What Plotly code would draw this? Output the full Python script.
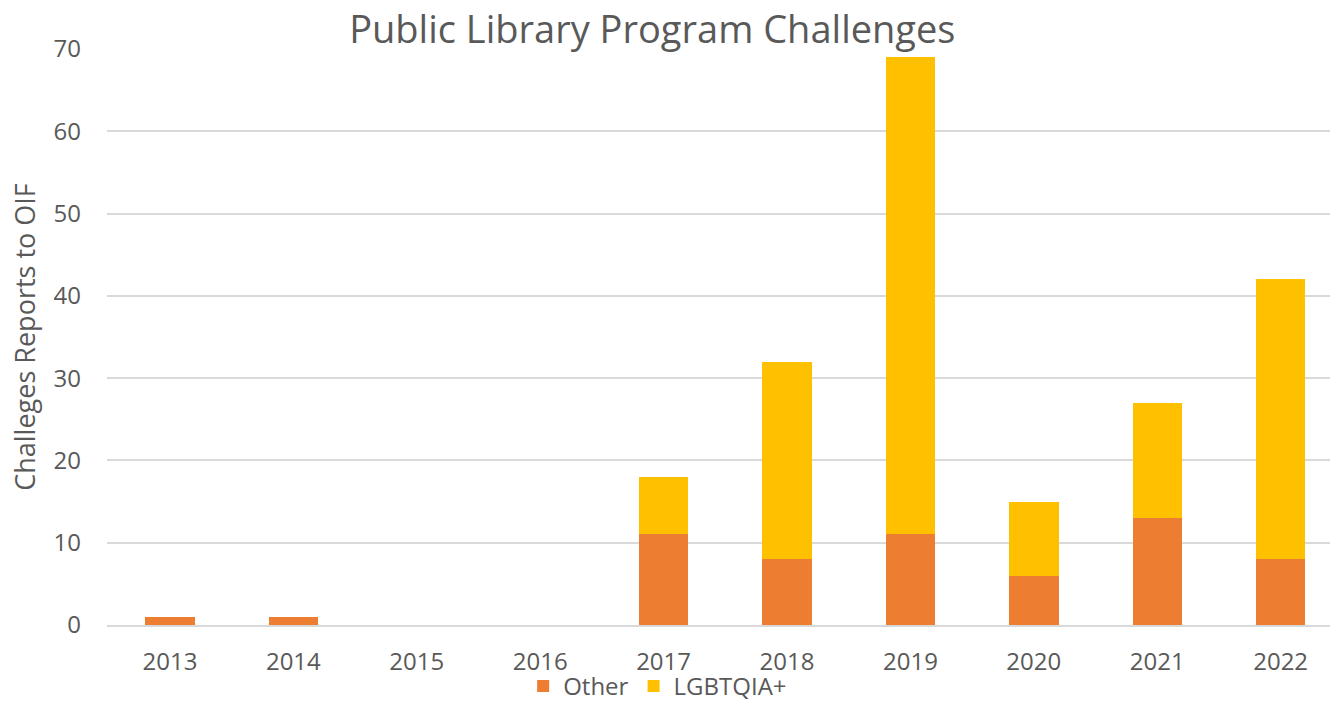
import plotly.graph_objects as go

years = ["2013", "2014", "2015", "2016", "2017", "2018", "2019", "2020", "2021", "2022"]
other = [1, 1, 0, 0, 11, 8, 11, 6, 13, 8]
lgbtqia = [0, 0, 0, 0, 7, 24, 58, 9, 14, 34]

font_family = "'Open Sans', sans-serif"
grey = "#595959"

fig = go.Figure()
fig.add_trace(go.Bar(x=years, y=other, name="Other", marker=dict(color="#ED7D31", line=dict(width=0))))
fig.add_trace(go.Bar(x=years, y=lgbtqia, name="LGBTQIA+", marker=dict(color="#FFC000", line=dict(width=0))))

fig.update_layout(
    barmode="stack",
    bargap=0.6,
    width=1334,
    height=701,
    paper_bgcolor="white",
    plot_bgcolor="white",
    margin=dict(l=107, r=4, t=49, b=76, autoexpand=False),
    font=dict(family=font_family, color=grey, size=24),
    title=dict(text="Public Library Program Challenges", x=0.489, xanchor="center",
               xref="container", yref="container",
               y=0.957, yanchor="middle", font=dict(size=38, color=grey, family=font_family)),
    legend=dict(orientation="h", x=0.493, xanchor="center", y=0.021, yanchor="middle",
                xref="container", yref="container", bgcolor="rgba(0,0,0,0)",
                font=dict(size=24, color=grey), itemwidth=30, traceorder="normal"),
    xaxis=dict(showgrid=False, showline=True, linecolor="#d9d9d9", linewidth=2,
               range=[-0.51, 9.4],
               tickfont=dict(size=24, color=grey), ticks="", ticklabelstandoff=14,
               automargin=False),
    yaxis=dict(range=[0, 70], dtick=10, showgrid=True, gridcolor="#d9d9d9", gridwidth=2,
               zeroline=False, tickfont=dict(size=24, color=grey), ticklabelstandoff=25,
               automargin=False,
               title=dict(text="Challeges Reports to OIF", font=dict(size=27, color=grey), standoff=10)),
)

fig.write_html("out.html", config={"displayModeBar": False},
               post_script="document.body.style.margin='0px'; document.body.style.overflow='hidden';")
